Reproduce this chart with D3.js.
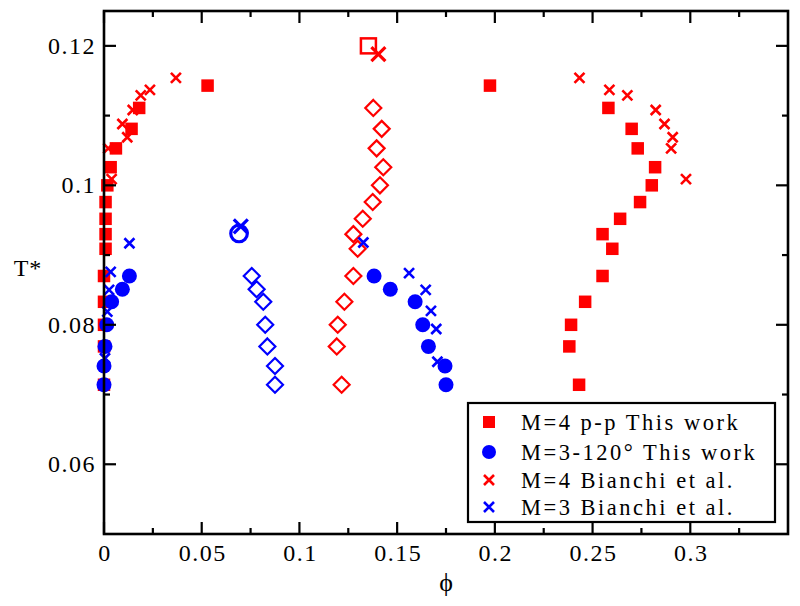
<!DOCTYPE html>
<html><head><meta charset="utf-8">
<script src="https://cdn.jsdelivr.net/npm/d3@7"></script>
<style>
html,body{margin:0;padding:0;background:#fff;}
text{font-family:"Liberation Serif","Times New Roman",serif;fill:#000;}
</style></head>
<body>
<svg id="chart" width="800" height="606"></svg>
<script>
// ---------- data ----------
// M=4 p-p This work (filled red squares), two branches sharing temperatures
const sqT        = [0.1143,0.1111,0.1081,0.1053,0.1026,0.1000,0.0976,0.0952,0.0930,0.0909,0.0870,0.0833,0.0800,0.0769,0.0714];
const sqPhiLeft  = [0.0530,0.0180,0.0141,0.0061,0.0034,0.0017,0.0008,0.0008,0.0008,0.0008,0.0000,0.0000,0.0000,0.0000,0.0000];
const sqPhiRight = [0.1975,0.2581,0.2700,0.2731,0.2820,0.2803,0.2743,0.2641,0.2551,0.2601,0.2551,0.2462,0.2390,0.2381,0.2431];
// red open diamonds (M=4 middle branch)
const rdT   = [0.1111,0.1081,0.1053,0.1026,0.1000,0.0976,0.0952,0.0930,0.0909,0.0870,0.0833,0.0800,0.0769,0.0714];
const rdPhi = [0.1378,0.1421,0.1395,0.1429,0.1412,0.1375,0.1324,0.1276,0.1298,0.1276,0.1230,0.1196,0.1191,0.1216];
// M=3-120° This work (filled blue circles)
const ciT        = [0.0870,0.0851,0.0833,0.0800,0.0769,0.0741,0.0714];
const ciPhiLeft  = [0.0130,0.0094,0.0039,0.0014,0.0005,0.0000,0.0000];
const ciPhiRight = [0.1382,0.1465,0.1592,0.1631,0.1660,0.1745,0.1750];
// blue open diamonds (M=3 middle branch)
const bdPhi = [0.0756,0.0781,0.0815,0.0825,0.0836,0.0875,0.0875];
// M=4 Bianchi et al. (red x)
const bxrT        = [0.1154,0.1137,0.1129,0.1108,0.1088,0.1069,0.1053,0.1009];
const bxrPhiLeft  = [0.0368,0.0235,0.0188,0.0147,0.0094,0.0119,0.0022,0.0039];
const bxrPhiRight = [0.2433,0.2586,0.2678,0.2823,0.2868,0.2910,0.2902,0.2978];
// M=3 Bianchi et al. (blue x)
const bxbLeftT    = [0.0917,0.0876,0.0850,0.0819,0.0752];
const bxbLeftPhi  = [0.0130,0.0034,0.0026,0.0017,0.0005];
const bxbRightT   = [0.0918,0.0874,0.0850,0.0820,0.0794,0.0747];
const bxbRightPhi = [0.1327,0.1561,0.1646,0.1673,0.1700,0.1706];
// critical points
const critRedSquare = [0.1353,0.1200];
const critRedX      = [0.1404,0.1188];
const critBlueCircle= [0.0691,0.0931];
const critBlueX     = [0.0700,0.0941];
// axes
const xDomain = [0,0.35], yDomain = [0.05,0.125];
const xMajor = [0,0.05,0.1,0.15,0.2,0.25,0.3];
const xLabels = ["0","0.05","0.1","0.15","0.2","0.25","0.3"];
const xMinor = [0.025,0.075,0.125,0.175,0.225,0.275,0.325];
const yMajor = [0.06,0.08,0.1,0.12];
const yLabels = ["0.06","0.08","0.1","0.12"];
const yMinor = [0.07,0.09,0.11];
const legendLabels = ["M=4 p-p This work","M=3-120° This work","M=4 Bianchi et al.","M=3 Bianchi et al."];

// ---------- drawing ----------
const RED="#ff0000", BLUE="#0000ff";
const L=104, R=788, T=11, B=534;
const x = d3.scaleLinear().domain(xDomain).range([L,R]);
const y = d3.scaleLinear().domain(yDomain).range([B,T]);
const svg = d3.select("#chart");
const g = svg.append("g");

function zip(a,b){return a.map((v,i)=>[v,b[i]]);}
function diamonds(data,color){
  g.append("g").selectAll("path").data(data).join("path")
   .attr("d",d=>{const cx=x(d[0]),cy=y(d[1]),h=8;return `M${cx},${cy-h}L${cx+h},${cy}L${cx},${cy+h}L${cx-h},${cy}Z`;})
   .attr("fill","none").attr("stroke",color).attr("stroke-width",2.2);
}
function squares(data,color,s){
  g.append("g").selectAll("rect").data(data).join("rect")
   .attr("x",d=>x(d[0])-s/2).attr("y",d=>y(d[1])-s/2).attr("width",s).attr("height",s).attr("fill",color);
}
function circles(data,color,r){
  g.append("g").selectAll("circle").data(data).join("circle")
   .attr("cx",d=>x(d[0])).attr("cy",d=>y(d[1])).attr("r",r).attr("fill",color);
}
function crosses(data,color,h,sw){
  g.append("g").selectAll("path").data(data).join("path")
   .attr("d",d=>{const cx=x(d[0]),cy=y(d[1]);return `M${cx-h},${cy-h}L${cx+h},${cy+h}M${cx-h},${cy+h}L${cx+h},${cy-h}`;})
   .attr("stroke",color).attr("stroke-width",sw).attr("fill","none");
}

diamonds(zip(rdPhi,rdT),RED);
diamonds(zip(bdPhi,ciT),BLUE);
squares(zip(sqPhiLeft,sqT),RED,12.5);
squares(zip(sqPhiRight,sqT),RED,12.5);
circles(zip(ciPhiLeft,ciT),BLUE,7.5);
circles(zip(ciPhiRight,ciT),BLUE,7.5);
crosses(zip(bxrPhiLeft,bxrT),RED,5,2.6);
crosses(zip(bxrPhiRight,bxrT),RED,5,2.6);
crosses(zip(bxbLeftPhi,bxbLeftT),BLUE,5,2.6);
crosses(zip(bxbRightPhi,bxbRightT),BLUE,5,2.6);
// critical points
g.append("rect").datum(critRedSquare)
 .attr("x",d=>x(d[0])-7.5).attr("y",d=>y(d[1])-7.5).attr("width",15).attr("height",15)
 .attr("fill","none").attr("stroke",RED).attr("stroke-width",2.5);
crosses([critRedX],RED,7,3.2);
g.append("circle").datum(critBlueCircle)
 .attr("cx",d=>x(d[0])).attr("cy",d=>y(d[1])).attr("r",8.3)
 .attr("fill","none").attr("stroke",BLUE).attr("stroke-width",3.2);
crosses([critBlueX],BLUE,7,3.2);

// frame and ticks
const ax = svg.append("g");
ax.append("rect").attr("x",L).attr("y",T).attr("width",R-L).attr("height",B-T)
  .attr("fill","none").attr("stroke","#000").attr("stroke-width",2.6);
function tickLines(vals,len){
  vals.forEach(v=>{
    ax.append("line").attr("x1",x(v)).attr("x2",x(v)).attr("y1",B).attr("y2",B-len).attr("stroke","#000").attr("stroke-width",2.2);
    ax.append("line").attr("x1",x(v)).attr("x2",x(v)).attr("y1",T).attr("y2",T+len).attr("stroke","#000").attr("stroke-width",2.2);
  });
}
function tickLinesY(vals,len){
  vals.forEach(v=>{
    ax.append("line").attr("y1",y(v)).attr("y2",y(v)).attr("x1",L).attr("x2",L+len).attr("stroke","#000").attr("stroke-width",2.2);
    ax.append("line").attr("y1",y(v)).attr("y2",y(v)).attr("x1",R).attr("x2",R-len).attr("stroke","#000").attr("stroke-width",2.2);
  });
}
tickLines(xMajor,12); tickLines(xMinor,6);
tickLinesY(yMajor,12); tickLinesY(yMinor,6);

xMajor.forEach((v,i)=>{
  ax.append("text").attr("x",x(v)+1).attr("y",561).attr("text-anchor","middle")
    .attr("font-size",24).attr("letter-spacing","1.5px").text(xLabels[i]);
});
yMajor.forEach((v,i)=>{
  ax.append("text").attr("x",96).attr("y",y(v)+8).attr("text-anchor","end")
    .attr("font-size",24).attr("letter-spacing","1.5px").text(yLabels[i]);
});
ax.append("text").attr("x",446).attr("y",591).attr("text-anchor","middle").attr("font-size",26).text("ϕ");
ax.append("text").attr("x",28).attr("y",276).attr("text-anchor","middle").attr("font-size",24).attr("letter-spacing","1px").text("T*");

// legend
const lg = svg.append("g");
lg.append("rect").attr("x",468).attr("y",403).attr("width",307).attr("height",119)
  .attr("fill","#fff").attr("stroke","#000").attr("stroke-width",2.2);
const rows=[422,452,480,507], mx=489;
lg.append("rect").attr("x",mx-6).attr("y",rows[0]-6).attr("width",12).attr("height",12).attr("fill",RED);
lg.append("circle").attr("cx",mx).attr("cy",rows[1]).attr("r",7).attr("fill",BLUE);
[[rows[2],RED],[rows[3],BLUE]].forEach(([ry,c])=>{
  lg.append("path").attr("d",`M${mx-5},${ry-5}L${mx+5},${ry+5}M${mx-5},${ry+5}L${mx+5},${ry-5}`)
    .attr("stroke",c).attr("stroke-width",2.6);
});
legendLabels.forEach((t,i)=>{
  lg.append("text").attr("x",521).attr("y",rows[i]+8).attr("font-size",22.5).attr("letter-spacing","2.5px").text(t);
});
</script>
</body></html>
